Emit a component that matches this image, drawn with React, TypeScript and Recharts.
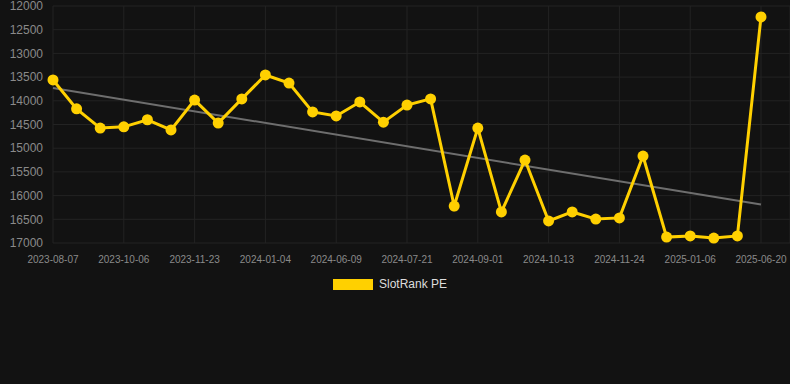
import React from "react";
import { LineChart, Line, XAxis, YAxis, CartesianGrid, Legend, ReferenceLine } from "recharts";

const dates = [
  "2023-08-07", "2023-08-27", "2023-09-16", "2023-10-06", "2023-10-22", "2023-11-07",
  "2023-11-23", "2023-12-07", "2023-12-21", "2024-01-04", "2024-02-25", "2024-04-17",
  "2024-06-09", "2024-06-23", "2024-07-07", "2024-07-21", "2024-08-04", "2024-08-18",
  "2024-09-01", "2024-09-15", "2024-09-29", "2024-10-13", "2024-10-27", "2024-11-10",
  "2024-11-24", "2024-12-08", "2024-12-22", "2025-01-06", "2025-02-20", "2025-04-05",
  "2025-06-20",
];

const rankValues = [
  13560, 14170, 14575, 14550, 14400, 14615,
  13985, 14470, 13960, 13455, 13625, 14235,
  14320, 14025, 14450, 14090, 13960, 16220,
  14575, 16345, 15250, 16535, 16345, 16495,
  16470, 15165, 16875, 16850, 16895, 16850,
  12230,
];

const xTicks = [
  "2023-08-07", "2023-10-06", "2023-11-23", "2024-01-04", "2024-06-09", "2024-07-21",
  "2024-09-01", "2024-10-13", "2024-11-24", "2025-01-06", "2025-06-20",
];

const yTicks = [12000, 12500, 13000, 13500, 14000, 14500, 15000, 15500, 16000, 16500, 17000];

const trendDates = ["2023-08-07", "2025-06-20"];
const trendValues = [13730, 16190];

const seriesName = "SlotRank PE";

const data = dates.map((d, i) => ({ date: d, value: rankValues[i] }));

const YELLOW = "#FFD000";
const FONT = "'Liberation Sans', Arial, sans-serif";

const LegendContent = () => (
  <div style={{ display: "flex", justifyContent: "flex-start", alignItems: "center", fontFamily: FONT, paddingLeft: 333 }}>
    <div style={{ width: 40, height: 11, background: YELLOW, marginRight: 6 }} />
    <span style={{ color: "#dddddd", fontSize: 12 }}>{seriesName}</span>
  </div>
);

export default function App() {
  return (
    <div style={{ position: "absolute", left: 0, top: 0, width: 790, height: 384, background: "#121212", fontFamily: FONT }}>
      <LineChart width={790} height={384} data={data} margin={{ top: 6, right: 0, left: 0, bottom: 111 }}>
        <CartesianGrid stroke="#232323" strokeWidth={1} />
        <XAxis
          dataKey="date"
          ticks={xTicks}
          interval={0}
          axisLine={false}
          tickLine={false}
          tickSize={10}
          tickMargin={3}
          height={30}
          padding={{ left: 0, right: 29 }}
          tick={{ fill: "#8a8a8a", fontSize: 10, fontFamily: FONT }}
        />
        <YAxis
          reversed
          domain={[12000, 17000]}
          ticks={yTicks}
          interval={0}
          width={53}
          axisLine={false}
          tickLine={false}
          tickSize={8}
          tickMargin={2}
          tick={{ fill: "#8a8a8a", fontSize: 12, fontFamily: FONT }}
        />
        <ReferenceLine
          segment={[
            { x: trendDates[0], y: trendValues[0] },
            { x: trendDates[1], y: trendValues[1] },
          ]}
          stroke="#6e6e6e"
          strokeWidth={2}
        />
        <Line
          type="linear"
          dataKey="value"
          name={seriesName}
          stroke={YELLOW}
          strokeWidth={3}
          dot={{ r: 5.5, fill: YELLOW, stroke: YELLOW, strokeWidth: 0 }}
          activeDot={false}
          isAnimationActive={false}
        />
        <Legend
          verticalAlign="middle"
          align="center"
          layout="horizontal"
          wrapperStyle={{ top: 277, left: 0, width: 790 }}
          content={<LegendContent />}
        />
      </LineChart>
    </div>
  );
}
